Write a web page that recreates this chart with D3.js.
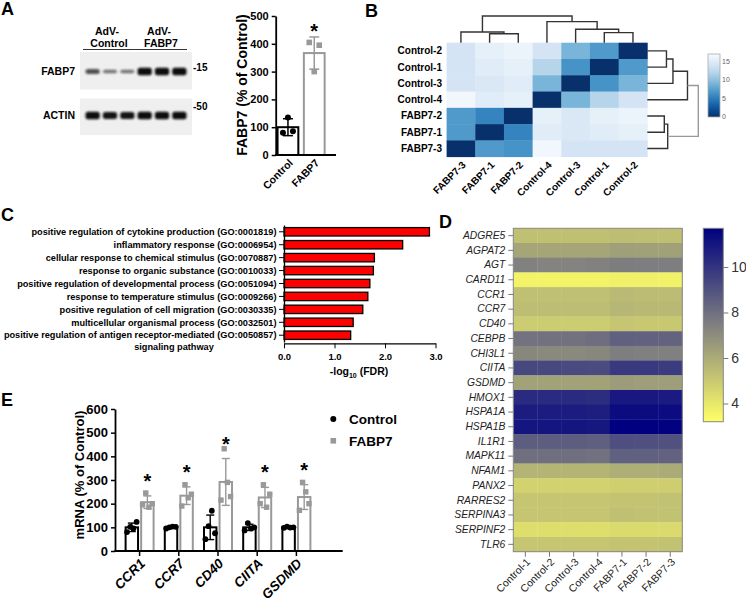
<!DOCTYPE html>
<html>
<head>
<meta charset="utf-8">
<script src="https://d3js.org/d3.v7.min.js"></script>
<style>
body { margin: 0; background: #fff; }
svg text { font-family: "Liberation Sans", Arial, Helvetica, sans-serif; }
.bold { font-weight: bold; }
</style>
</head>
<body>
<div id="container"></div>
<script>
// ---------- data ----------
// A: western blot band intensities (lanes: 3 AdV-Control, 3 AdV-FABP7)
var blotLanes = ["C1", "C2", "C3", "F1", "F2", "F3"];
var fabp7Band = [0.55, 0.3, 0.3, 1, 1, 1];
var actinBand = [1, 0.95, 0.95, 1, 1, 1];

// A: quantification
var aGroups = ["Control", "FABP7"];
var aPoints = [[80, 135, 85], [405, 300, 395]];
var aTicks = [0, 100, 200, 300, 400, 500];

// B: sample distance heatmap
var bRows = ["Control-2", "Control-1", "Control-3", "Control-4", "FABP7-2", "FABP7-1", "FABP7-3"];
var bCols = ["FABP7-3", "FABP7-1", "FABP7-2", "Control-4", "Control-3", "Control-1", "Control-2"];
var bValues = [
  [14.0, 15.5, 16.0, 14.0, 9.0, 7.0, 0],
  [14.0, 15.0, 15.5, 12.0, 6.5, 0, 7.0],
  [14.0, 14.5, 15.0, 9.0, 0, 6.5, 9.0],
  [16.5, 15.0, 15.5, 0, 9.0, 12.0, 14.0],
  [7.0, 5.5, 0, 15.5, 14.5, 15.5, 16.0],
  [7.0, 0, 5.5, 15.0, 14.5, 15.0, 15.5],
  [0, 7.0, 6.5, 16.5, 14.0, 14.0, 14.0]
];
var bTree = [
  ["FABP7-1", "FABP7-2", 5.5, "n1"],
  ["FABP7-3", "n1", 6.6, "n2"],
  ["Control-1", "Control-2", 6.2, "n3"],
  ["Control-3", "n3", 8.3, "n4"],
  ["Control-4", "n4", 13.0, "n5"],
  ["n2", "n5", 16.5, "root"]
];
var bTicks = [0, 5, 10, 15];

// C: GO enrichment
var cTerms = [
  "positive regulation of cytokine production (GO:0001819)",
  "inflammatory response (GO:0006954)",
  "cellular response to chemical stimulus (GO:0070887)",
  "response to organic substance (GO:0010033)",
  "positive regulation of developmental process (GO:0051094)",
  "response to temperature stimulus (GO:0009266)",
  "positive regulation of cell migration (GO:0030335)",
  "multicellular organismal process (GO:0032501)",
  "positive regulation of antigen receptor-mediated (GO:0050857)|signaling pathway"
];
var cValues = [2.88, 2.35, 1.79, 1.77, 1.70, 1.66, 1.56, 1.37, 1.32];
var cTicks = [0, 1, 2, 3];

// D: expression heatmap
var dGenes = ["ADGRE5", "AGPAT2", "AGT", "CARD11", "CCR1", "CCR7", "CD40", "CEBPB", "CHI3L1", "CIITA", "GSDMD",
  "HMOX1", "HSPA1A", "HSPA1B", "IL1R1", "MAPK11", "NFAM1", "PANX2", "RARRES2", "SERPINA3", "SERPINF2", "TLR6"];
var dSamples = ["Control-1", "Control-2", "Control-3", "Control-4", "FABP7-1", "FABP7-2", "FABP7-3"];
var dValues = [
  [5.3, 5.3, 5.3, 5.3, 5.4, 5.35, 5.35],
  [6.2, 6.2, 6.2, 6.2, 6.4, 6.35, 6.35],
  [7.4, 7.35, 7.35, 7.4, 7.55, 7.5, 7.5],
  [3.6, 3.6, 3.6, 3.6, 3.7, 3.7, 3.65],
  [5.3, 5.3, 5.3, 5.3, 5.5, 5.45, 5.45],
  [5.4, 5.4, 5.4, 5.4, 5.6, 5.55, 5.55],
  [4.9, 4.9, 4.9, 4.9, 5.1, 5.05, 5.05],
  [7.9, 7.95, 7.95, 8.05, 8.5, 8.45, 8.4],
  [7.2, 7.15, 7.15, 7.2, 7.5, 7.45, 7.45],
  [9.3, 9.3, 9.25, 9.2, 9.8, 9.8, 9.75],
  [6.3, 6.3, 6.3, 6.3, 6.5, 6.45, 6.45],
  [10.3, 10.3, 10.3, 10.2, 10.9, 10.9, 10.85],
  [10.8, 10.8, 10.8, 10.7, 11.3, 11.3, 11.3],
  [11.0, 11.0, 11.0, 10.95, 11.7, 11.7, 11.65],
  [8.6, 8.6, 8.6, 8.55, 9.1, 9.05, 9.0],
  [8.0, 8.0, 8.0, 7.95, 8.5, 8.5, 8.45],
  [5.7, 5.7, 5.7, 5.7, 5.9, 5.9, 6.0],
  [4.7, 4.7, 4.7, 4.7, 4.8, 4.8, 4.85],
  [5.1, 5.1, 5.1, 5.1, 5.2, 5.2, 5.25],
  [5.1, 5.1, 5.1, 5.1, 5.3, 5.25, 5.25],
  [4.3, 4.3, 4.3, 4.3, 4.4, 4.4, 4.45],
  [5.1, 5.1, 5.1, 5.1, 5.2, 5.2, 5.25]
];
var dTicks = [4, 6, 8, 10];

// E: qPCR
var eGenes = ["CCR1", "CCR7", "CD40", "CIITA", "GSDMD"];
var eGroups = ["Control", "FABP7"];
var eControl = [[80, 102, 95, 123], [95, 100, 103, 102], [50, 105, 170, 75], [87, 118, 95, 100], [98, 103, 99, 100]];
var eFabp7 = [[195, 245, 185, 200], [190, 280, 225, 240], [215, 432, 290, 230], [200, 280, 185, 240], [172, 290, 250, 200]];
var eTicks = [0, 100, 200, 300, 400, 500, 600];

// ---------- setup ----------
var width = 746, height = 601;
var svg = d3.select("#container").append("svg")
  .attr("width", width).attr("height", height);
var defs = svg.append("defs");
defs.append("filter").attr("id", "blur")
  .attr("x", "-30%").attr("y", "-80%").attr("width", "160%").attr("height", "260%")
  .append("feGaussianBlur").attr("stdDeviation", 1.1);

function letter(t, x, y) {
  svg.append("text").attr("class", "bold").attr("x", x).attr("y", y)
    .attr("font-size", 18).text(t);
}
letter("A", 1, 15);
letter("B", 365, 17);
letter("C", 1, 221);
letter("D", 439, 228);
letter("E", 1, 406);

// ---------- A: blot ----------
var laneX = d3.scaleBand().domain(blotLanes).range([85, 187]).paddingInner(0.12);
var lw = laneX.bandwidth();

var heads = [["AdV-", "Control", blotLanes.slice(0, 3)], ["AdV-", "FABP7", blotLanes.slice(3)]];
heads.forEach(function (h) {
  var x0 = laneX(h[2][0]) - 2, x1 = laneX(h[2][2]) + lw;
  var cx = (x0 + x1) / 2;
  svg.append("text").attr("class", "bold").attr("x", cx - 2).attr("y", 35)
    .attr("text-anchor", "middle").attr("font-size", 10.5).text(h[0]);
  svg.append("text").attr("class", "bold").attr("x", cx).attr("y", 46.5)
    .attr("text-anchor", "middle").attr("font-size", 10.5).text(h[1]);
  svg.append("line").attr("x1", x0).attr("x2", x1).attr("y1", 49.5).attr("y2", 49.5)
    .attr("stroke", "#333").attr("stroke-width", 1);
});

var blots = [
  { name: "FABP7", marker: "-15", y0: 52, y1: 89.5, my: 71, vals: fabp7Band, cy: 71.5 },
  { name: "ACTIN", marker: "-50", y0: 98.5, y1: 135, my: 109.5, vals: actinBand, cy: 115.5 }
];
blots.forEach(function (b) {
  svg.append("rect").attr("x", 80).attr("y", b.y0).attr("width", 112).attr("height", b.y1 - b.y0)
    .attr("fill", "#efefef");
  svg.append("g").selectAll("rect").data(b.vals).enter().append("rect")
    .attr("x", function (d, i) { return laneX(blotLanes[i]) + 0.5; })
    .attr("width", lw - 1)
    .attr("y", function (d) { return b.cy - (2 + 5.5 * d) / 2; })
    .attr("height", function (d) { return 2 + 5.5 * d; })
    .attr("rx", 2.5)
    .attr("fill", "#111")
    .attr("opacity", function (d) { return 0.35 + 0.65 * d; })
    .attr("filter", "url(#blur)");
  svg.append("text").attr("class", "bold").attr("x", 75).attr("y", b.cy + 3.5)
    .attr("text-anchor", "end").attr("font-size", 10.5).text(b.name);
  svg.append("text").attr("class", "bold").attr("x", 193).attr("y", b.my)
    .attr("font-size", 10).text(b.marker);
});

// ---------- A: bar chart ----------
var xA = d3.scaleBand().domain(aGroups).range([274.8, 327.4]).paddingInner(0.21).paddingOuter(0.105);
var yA = d3.scaleLinear().domain([0, 500]).range([155, 16]);
var aColor = d3.scaleOrdinal().domain(aGroups).range(["#000", "#999"]);

var gA = svg.append("g");
aGroups.forEach(function (g, i) {
  var pts = aPoints[i], m = d3.mean(pts), sd = d3.deviation(pts);
  var x = xA(g), bw = xA.bandwidth(), cx = x + bw / 2;
  gA.append("rect").attr("x", x).attr("y", yA(m)).attr("width", bw).attr("height", yA(0) - yA(m))
    .attr("fill", "#fff").attr("stroke", aColor(g)).attr("stroke-width", 2);
  gA.append("line").attr("x1", cx).attr("x2", cx).attr("y1", yA(m - sd)).attr("y2", yA(m + sd))
    .attr("stroke", aColor(g)).attr("stroke-width", 1.5);
  [m - sd, m + sd].forEach(function (v) {
    gA.append("line").attr("x1", cx - 5).attr("x2", cx + 5).attr("y1", yA(v)).attr("y2", yA(v))
      .attr("stroke", aColor(g)).attr("stroke-width", 1.5);
  });
  pts.forEach(function (v, j) {
    var px = cx + (j - 1) * 5;
    if (i === 0) {
      gA.append("circle").attr("cx", px).attr("cy", yA(v)).attr("r", 3).attr("fill", "#000");
    } else {
      gA.append("rect").attr("x", px - 2.8).attr("y", yA(v) - 2.8).attr("width", 5.6).attr("height", 5.6)
        .attr("fill", "#999");
    }
  });
  if (i === 1) {
    gA.append("text").attr("class", "bold").attr("x", cx).attr("y", yA(m + sd) + 1)
      .attr("text-anchor", "middle").attr("font-size", 20).text("*");
  }
  gA.append("text").attr("class", "bold").attr("font-size", 10.5)
    .attr("text-anchor", "end")
    .attr("transform", "translate(" + (cx + 3) + "," + 161 + ") rotate(-45)")
    .attr("dy", "0.35em").text(g);
});
var axA = svg.append("g").attr("transform", "translate(275.7,0)")
  .call(d3.axisLeft(yA).tickValues(aTicks).tickSize(4).tickSizeOuter(0));
axA.selectAll("text").attr("class", "bold").attr("font-size", 11).attr("fill", "#000");
axA.select(".domain").attr("stroke-width", 1.8);
axA.selectAll(".tick line").attr("stroke-width", 1.5);
svg.append("line").attr("x1", 275).attr("x2", 336).attr("y1", 155).attr("y2", 155)
  .attr("stroke", "#000").attr("stroke-width", 1.8);
svg.append("text").attr("class", "bold").attr("font-size", 14).attr("text-anchor", "middle")
  .attr("transform", "translate(247,85) rotate(-90)").text("FABP7 (% of Control)");

// ---------- B: distance heatmap ----------
var bx = d3.scaleBand().domain(bCols).range([446.6, 647.3]);
var by = d3.scaleBand().domain(bRows).range([42.7, 156.7]);
var bMax = 17;
var bColor = function (v) { return d3.interpolateBlues(1 - v / bMax); };

var gB = svg.append("g");
bRows.forEach(function (r, i) {
  gB.selectAll(null).data(bValues[i]).enter().append("rect")
    .attr("x", function (d, j) { return bx(bCols[j]); })
    .attr("y", by(r))
    .attr("width", bx.bandwidth() + 0.4)
    .attr("height", by.bandwidth() + 0.4)
    .attr("fill", function (d) { return bColor(d); });
});
gB.selectAll(".rowlab").data(bRows).enter().append("text")
  .attr("class", "bold").attr("font-size", 10).attr("text-anchor", "end")
  .attr("x", 442).attr("y", function (d) { return by(d) + by.bandwidth() / 2; })
  .attr("dy", "0.35em").text(function (d) { return d; });
gB.selectAll(".collab").data(bCols).enter().append("text")
  .attr("class", "bold").attr("font-size", 10).attr("text-anchor", "end")
  .attr("transform", function (d) { return "translate(" + (bx(d) + bx.bandwidth() / 2 + 3) + ",163) rotate(-45)"; })
  .attr("dy", "0.35em").text(function (d) { return d; });

function drawTree(tree, leafPos, hPos, vertical, rootColor) {
  var pos = {}, hgt = {};
  function p(n) { return pos[n] !== undefined ? pos[n] : leafPos(n); }
  function h(n) { return hgt[n] !== undefined ? hgt[n] : 0; }
  tree.forEach(function (t) {
    var a = t[0], b = t[1], H = t[2];
    var pa = p(a), pb = p(b), ha = hPos(h(a)), hb = hPos(h(b)), hh = hPos(H);
    var d = vertical
      ? "M" + pa + "," + ha + "V" + hh + "H" + pb + "V" + hb
      : "M" + ha + "," + pa + "H" + hh + "V" + pb + "H" + hb;
    svg.append("path").attr("d", d).attr("fill", "none")
      .attr("stroke", t[3] === "root" ? rootColor : "#333").attr("stroke-width", 1.4);
    pos[t[3]] = (pa + pb) / 2;
    hgt[t[3]] = H;
  });
}
var topH = d3.scaleLinear().domain([0, 16.5]).range([42.7, 16]);
var rightH = d3.scaleLinear().domain([0, 16.5]).range([647.3, 698.3]);
drawTree(bTree, function (n) { return bx(n) + bx.bandwidth() / 2; }, topH, true, "#333");
drawTree(bTree, function (n) { return by(n) + by.bandwidth() / 2; }, rightH, false, "#999");

// B colour bar
var bLeg = d3.scaleLinear().domain([0, bMax]).range([117, 54]);
var gradB = defs.append("linearGradient").attr("id", "gradB")
  .attr("x1", 0).attr("y1", 1).attr("x2", 0).attr("y2", 0);
d3.range(0, 1.001, 0.1).forEach(function (t) {
  gradB.append("stop").attr("offset", t).attr("stop-color", bColor(t * bMax));
});
svg.append("rect").attr("x", 708).attr("y", 54).attr("width", 12).attr("height", 63)
  .attr("fill", "url(#gradB)").attr("stroke", "#aaa").attr("stroke-width", 0.8);
svg.selectAll(".btick").data(bTicks).enter().append("text")
  .attr("x", 722).attr("y", function (d) { return bLeg(d); }).attr("dy", "0.35em")
  .attr("font-size", 7).attr("fill", "#666").text(function (d) { return d; });

// ---------- C: GO bars ----------
var cx = d3.scaleLinear().domain([0, 3]).range([284, 435.5]);
var cy = d3.scaleBand().domain(cTerms).range([225, 342]).paddingInner(0.35).paddingOuter(0.2);
var gC = svg.append("g");
gC.selectAll("rect").data(cValues).enter().append("rect")
  .attr("x", cx(0)).attr("y", function (d, i) { return cy(cTerms[i]); })
  .attr("width", function (d) { return cx(d) - cx(0); })
  .attr("height", cy.bandwidth())
  .attr("fill", "#ff0000").attr("stroke", "#000").attr("stroke-width", 1.3);
var axCy = svg.append("g").attr("transform", "translate(284,0)")
  .call(d3.axisLeft(cy).tickSize(5).tickSizeOuter(0).tickFormat(""));
axCy.select(".domain").attr("stroke-width", 1.3);
cTerms.forEach(function (t) {
  var parts = t.split("|"), yc = cy(t) + cy.bandwidth() / 2;
  svg.append("text").attr("class", "bold").attr("font-size", 9.2).attr("text-anchor", "end")
    .attr("x", 276.5).attr("y", yc).attr("dy", "0.35em").text(parts[0]);
  if (parts[1]) {
    svg.append("text").attr("class", "bold").attr("font-size", 9.2).attr("text-anchor", "middle")
      .attr("x", 174).attr("y", yc + 12).attr("dy", "0.35em").text(parts[1]);
  }
});
var axCx = svg.append("g").attr("transform", "translate(0,343.3)")
  .call(d3.axisBottom(cx).tickValues(cTicks).tickSize(5).tickSizeOuter(0));
axCx.selectAll("text").attr("class", "bold").attr("font-size", 9.5).attr("dy", "0.9em");
axCx.select(".domain").attr("stroke-width", 1.3);
var cTitle = svg.append("text").attr("class", "bold").attr("font-size", 10.5)
  .attr("text-anchor", "middle").attr("x", 359).attr("y", 375);
cTitle.append("tspan").text("-log");
cTitle.append("tspan").attr("font-size", 7).attr("dy", 3).text("10");
cTitle.append("tspan").attr("dy", -3).text(" (FDR)");

// ---------- D: expression heatmap ----------
var dx = d3.scaleBand().domain(dSamples).range([513.3, 682.3]);
var dy = d3.scaleBand().domain(dGenes).range([228.3, 551.7]);
var dColor = d3.scaleLinear().domain([3.2, 7.45, 11.7]).range(["#ffff66", "#808080", "#000080"]);
var gD = svg.append("g");
dGenes.forEach(function (g, i) {
  gD.selectAll(null).data(dValues[i]).enter().append("rect")
    .attr("x", function (d, j) { return dx(dSamples[j]); })
    .attr("y", dy(g))
    .attr("width", dx.bandwidth() + 0.3)
    .attr("height", dy.bandwidth() + 0.3)
    .attr("fill", function (d) { return dColor(d); });
});
svg.append("rect").attr("x", 513.3).attr("y", 228.3).attr("width", 169).attr("height", 323.4)
  .attr("fill", "none").attr("stroke", "#888").attr("stroke-width", 1);
var axDy = svg.append("g").attr("transform", "translate(513.3,0)")
  .call(d3.axisLeft(dy).tickSize(5).tickSizeOuter(0).tickPadding(3));
axDy.select(".domain").remove();
axDy.selectAll(".tick line").attr("stroke", "#777");
axDy.selectAll("text").attr("font-size", 10.3).attr("font-style", "italic").attr("fill", "#222");
var axDx = svg.append("g").attr("transform", "translate(0,551.7)")
  .call(d3.axisBottom(dx).tickSize(5).tickSizeOuter(0).tickFormat(""));
axDx.select(".domain").remove();
axDx.selectAll(".tick line").attr("stroke", "#777");
svg.selectAll(".dcol").data(dSamples).enter().append("text")
  .attr("font-size", 10.5).attr("fill", "#222").attr("text-anchor", "end")
  .attr("transform", function (d) { return "translate(" + (dx(d) + dx.bandwidth() / 2 + 3) + ",560) rotate(-45)"; })
  .attr("dy", "0.35em").text(function (d) { return d; });

// D colour bar
var dLeg = d3.scaleLinear().domain([3.2, 11.7]).range([421.7, 228.3]);
var gradD = defs.append("linearGradient").attr("id", "gradD")
  .attr("x1", 0).attr("y1", 1).attr("x2", 0).attr("y2", 0);
d3.range(0, 1.001, 0.1).forEach(function (t) {
  gradD.append("stop").attr("offset", t).attr("stop-color", dColor(3.2 + t * 8.5));
});
svg.append("rect").attr("x", 703.3).attr("y", 228.3).attr("width", 20).attr("height", 193.4)
  .attr("fill", "url(#gradD)").attr("stroke", "#888").attr("stroke-width", 1);
var axDl = svg.append("g").attr("transform", "translate(723.3,0)")
  .call(d3.axisRight(dLeg).tickValues(dTicks).tickSize(5).tickSizeOuter(0));
axDl.select(".domain").remove();
axDl.selectAll(".tick line").attr("stroke", "#777");
axDl.selectAll("text").attr("font-size", 14).attr("fill", "#333");

// ---------- E: qPCR bars ----------
var xE = d3.scaleBand().domain(eGenes).range([120, 316]);
var xSub = d3.scaleBand().domain(eGroups).range([-14, 14]).paddingInner(0.2);
var yE = d3.scaleLinear().domain([0, 600]).range([551, 409]);
var eColor = d3.scaleOrdinal().domain(eGroups).range(["#000", "#999"]);
var gE = svg.append("g");
eGenes.forEach(function (gene, gi) {
  [eControl[gi], eFabp7[gi]].forEach(function (pts, si) {
    var grp = eGroups[si], col = eColor(grp);
    var m = d3.mean(pts), sd = d3.deviation(pts);
    var bx0 = xE(gene) + xE.bandwidth() / 2 + xSub(grp), bw = xSub.bandwidth(), c = bx0 + bw / 2;
    gE.append("rect").attr("x", bx0).attr("y", yE(m)).attr("width", bw).attr("height", yE(0) - yE(m))
      .attr("fill", "#fff").attr("stroke", col).attr("stroke-width", 2);
    gE.append("line").attr("x1", c).attr("x2", c).attr("y1", yE(m - sd)).attr("y2", yE(m + sd))
      .attr("stroke", col).attr("stroke-width", 1.4);
    [m - sd, m + sd].forEach(function (v) {
      gE.append("line").attr("x1", c - 4).attr("x2", c + 4).attr("y1", yE(v)).attr("y2", yE(v))
        .attr("stroke", col).attr("stroke-width", 1.4);
    });
    pts.forEach(function (v, j) {
      var px = c + (j - 1.5) * 3.2;
      if (si === 0) {
        gE.append("circle").attr("cx", px).attr("cy", yE(v)).attr("r", 2.9).attr("fill", "#000");
      } else {
        gE.append("rect").attr("x", px - 2.7).attr("y", yE(v) - 2.7).attr("width", 5.4).attr("height", 5.4)
          .attr("fill", "#999");
      }
    });
    if (si === 1) {
      gE.append("text").attr("class", "bold").attr("x", c).attr("y", yE(m + sd) - 8)
        .attr("text-anchor", "middle").attr("font-size", 20).text("*");
    }
  });
});
var axEy = svg.append("g").attr("transform", "translate(115,0)")
  .call(d3.axisLeft(yE).tickValues(eTicks).tickSize(4).tickSizeOuter(0));
axEy.selectAll("text").attr("class", "bold").attr("font-size", 13).attr("fill", "#000");
axEy.select(".domain").attr("stroke-width", 1.8);
axEy.selectAll(".tick line").attr("stroke-width", 1.5);
svg.append("line").attr("x1", 114.3).attr("x2", 342.7).attr("y1", 551).attr("y2", 551)
  .attr("stroke", "#000").attr("stroke-width", 1.8);
svg.append("g").selectAll("line").data(eGenes).enter().append("line")
  .attr("x1", function (d) { return xE(d) + xE.bandwidth() / 2; })
  .attr("x2", function (d) { return xE(d) + xE.bandwidth() / 2; })
  .attr("y1", 551).attr("y2", 556).attr("stroke", "#000").attr("stroke-width", 1.5);
svg.selectAll(".elab").data(eGenes).enter().append("text")
  .attr("class", "bold").attr("font-size", 13.5).attr("font-style", "italic").attr("text-anchor", "end")
  .attr("transform", function (d) { return "translate(" + (xE(d) + xE.bandwidth() / 2 + 3) + ",561) rotate(-45)"; })
  .attr("dy", "0.35em").text(function (d) { return d; });
svg.append("text").attr("class", "bold").attr("font-size", 13).attr("text-anchor", "middle")
  .attr("transform", "translate(84,475) rotate(-90)").text("mRNA (% of Control)");

// E legend
svg.append("circle").attr("cx", 333.3).attr("cy", 419).attr("r", 3).attr("fill", "#000");
svg.append("rect").attr("x", 330.5).attr("y", 438).attr("width", 5.6).attr("height", 5.6).attr("fill", "#999");
svg.append("text").attr("class", "bold").attr("font-size", 13.5).attr("x", 349).attr("y", 419)
  .attr("dy", "0.36em").text(eGroups[0]);
svg.append("text").attr("class", "bold").attr("font-size", 13.5).attr("x", 349).attr("y", 441)
  .attr("dy", "0.36em").text(eGroups[1]);
</script>
</body>
</html>
